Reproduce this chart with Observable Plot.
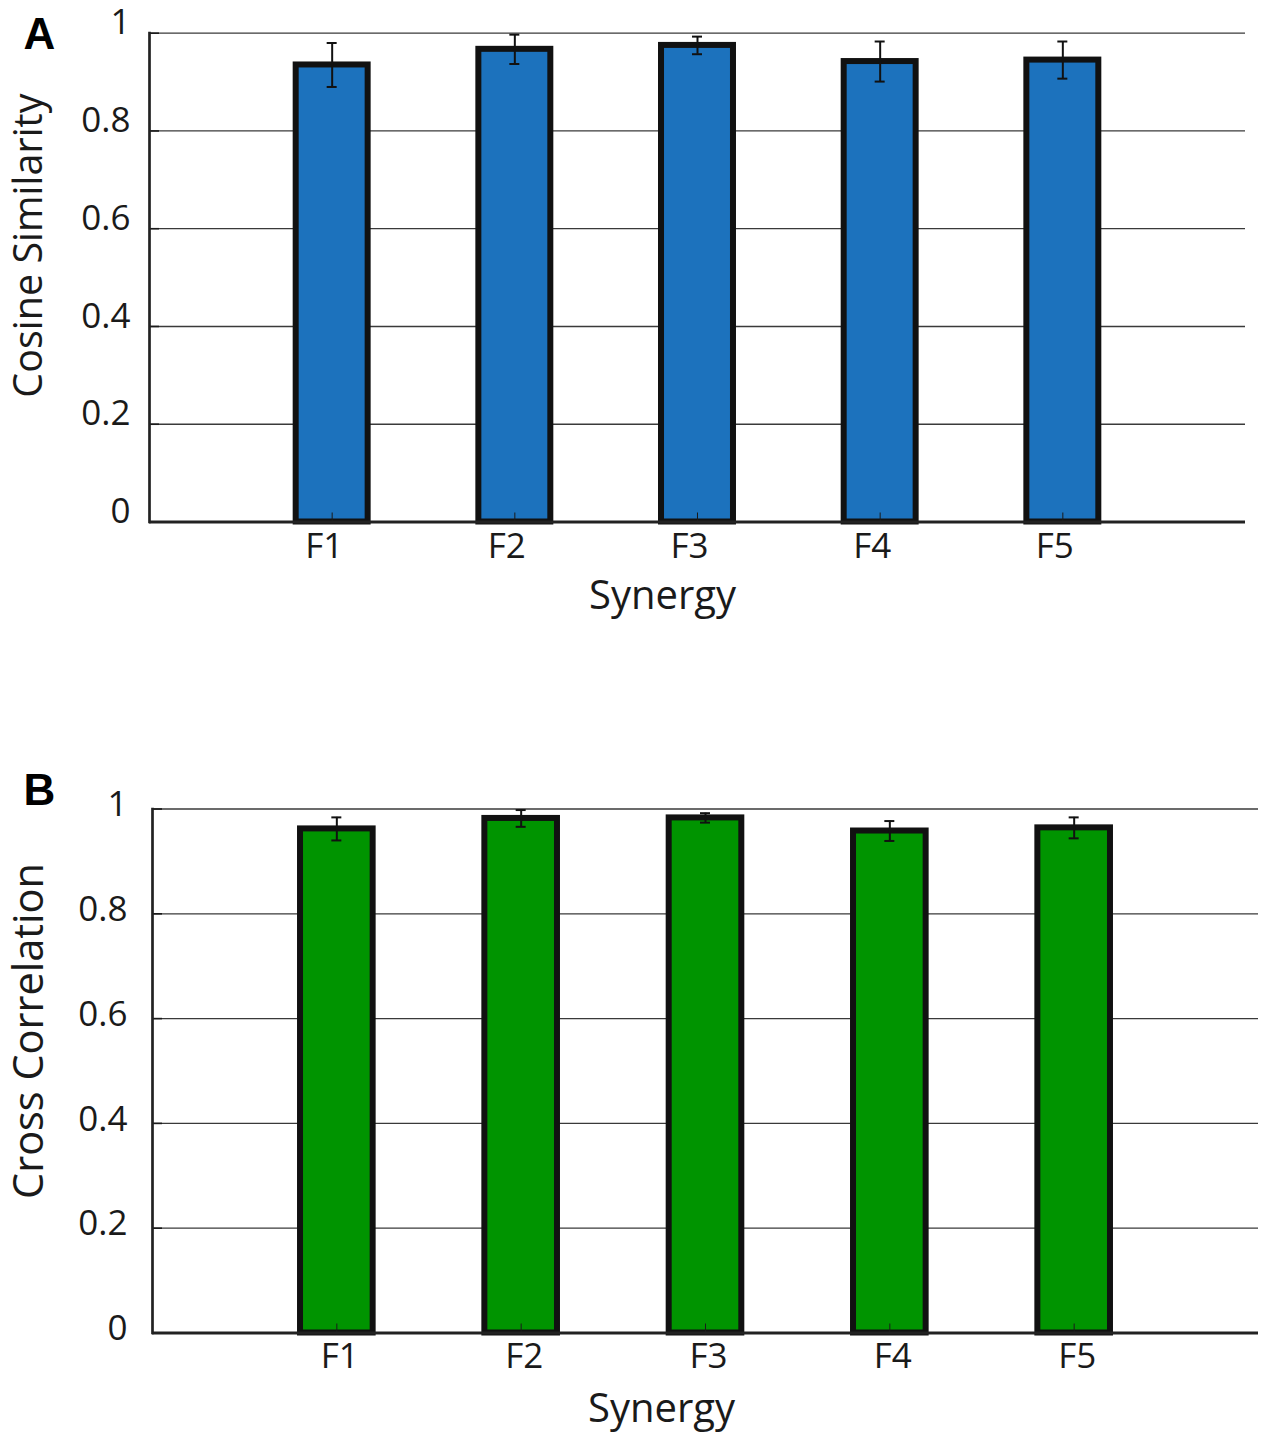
<!DOCTYPE html>
<html><head><meta charset="utf-8">
<script src="https://cdn.jsdelivr.net/npm/d3@7"></script>
<script src="https://cdn.jsdelivr.net/npm/@observablehq/plot@0.6"></script>
<style>
body{margin:0;background:#fff}
#wrap{width:1267px}
#wrap svg{display:block;overflow:visible}
</style>
</head><body><div id="wrap"></div>
<script>
const synergies = ["F1", "F2", "F3", "F4", "F5"];
const cosineMean = [0.935, 0.967, 0.975, 0.942, 0.945];
const cosineErr  = [0.045, 0.030, 0.018, 0.041, 0.038];
const crossMean  = [0.962, 0.982, 0.983, 0.958, 0.964];
const crossErr   = [0.022, 0.016, 0.009, 0.019, 0.020];
const yTicks = [0, 0.2, 0.4, 0.6, 0.8, 1];
const yTickLabels = ["0", "0.2", "0.4", "0.6", "0.8", "1"];

const PI = 0.606, PO = (1 + PI) / 2;

function panel(c) {
  const data = synergies.map((s, i) => ({s, v: c.mean[i], e: c.err[i]}));
  const W = 1267 - c.ml - c.mr;
  const H = c.height - c.mt - c.mb;
  const bw = W / 6 * (1 - PI);
  const capInset = (bw - 10) / 2;
  return Plot.plot({
    width: 1267,
    height: c.height,
    marginTop: c.mt, marginBottom: c.mb, marginLeft: c.ml, marginRight: c.mr,
    style: {fontFamily: "'Open Sans', 'Noto Sans', sans-serif", color: "#1a1a1a", background: "#fff"},
    x: {domain: synergies, paddingInner: PI, paddingOuter: PO, align: 0.5, round: false, label: null, axis: null},
    y: {domain: [0, 1], label: null, axis: null},
    marks: [
      Plot.gridY(yTicks.filter(d => d > 0), {stroke: "#3a3a3a", strokeOpacity: 1, strokeWidth: 1.3}),
      Plot.tickY(yTicks, {y: d => d, insetRight: W - 10, stroke: "#1a1a1a", strokeWidth: 1.6}),
      Plot.barY(data, {x: "s", y: "v", fill: c.color, stroke: "#111", strokeWidth: 6}),
      Plot.tickX(synergies, {x: d => d, insetTop: H - 9, stroke: "#1a1a1a", strokeWidth: 1}),
      Plot.ruleX(data, {x: "s", y1: d => d.v - d.e, y2: d => d.v + d.e, stroke: "#111", strokeWidth: 2}),
      Plot.tickY(data, {x: "s", y: d => d.v + d.e, insetLeft: capInset, insetRight: capInset, stroke: "#111", strokeWidth: 2}),
      Plot.tickY(data, {x: "s", y: d => d.v - d.e, insetLeft: capInset, insetRight: capInset, stroke: "#111", strokeWidth: 2}),
      Plot.ruleY([0], {stroke: "#222", strokeWidth: 3}),
      Plot.frame({anchor: "left", stroke: "#222", strokeWidth: 2.7}),
      Plot.axisY(yTicks, {tickFormat: d => yTickLabels[yTicks.indexOf(d)], tickSize: 0, tickPadding: c.yPad, dy: c.yDy, fontSize: 35, label: null}),
      Plot.axisX({tickSize: 0, tickPadding: c.xPad, dx: c.xDx, fontSize: 35, label: null}),
      Plot.text(["Synergy"], {text: d => d, frameAnchor: "bottom", textAnchor: "middle", lineAnchor: "bottom", dx: c.xTitleDx, dy: c.xTitleDy, fontSize: 40}),
      Plot.text([c.yLabel], {text: d => d, frameAnchor: "left", textAnchor: "middle", lineAnchor: "top", rotate: -90, dx: c.yTitleDx, dy: c.yTitleDy, fontSize: c.yTitleSize}),
      Plot.text([c.letter], {text: d => d, frameAnchor: "top-left", textAnchor: "start", lineAnchor: "top", dx: c.letterDx, dy: c.letterDy, fontSize: 44, fontWeight: "bold", fontFamily: "'Liberation Sans', Arial, sans-serif", fill: "#000"})
    ]
  });
}

const wrap = document.getElementById("wrap");
wrap.append(panel({
  height: 725, mt: 32.7, mb: 203.5, ml: 149, mr: 22,
  mean: cosineMean, err: cosineErr, color: "#1c72bd",
  yLabel: "Cosine Similarity", letter: "A",
  yPad: 19, yDy: -10, xPad: 11.5, xDx: -8, xTitleDx: -35, xTitleDy: 87,
  yTitleDx: -136, yTitleDy: -32, yTitleSize: 39.5,
  letterDx: 23 - 149, letterDy: -15
}));
wrap.append(panel({
  height: 724, mt: 83.5, mb: 116.5, ml: 152, mr: 9,
  mean: crossMean, err: crossErr, color: "#009400",
  yLabel: "Cross Correlation", letter: "B",
  yPad: 25, yDy: -4, xPad: 10.5, xDx: 3, xTitleDx: -44, xTitleDy: 89,
  yTitleDx: -139, yTitleDy: -40, yTitleSize: 41.5,
  letterDx: 23 - 152, letterDy: -35.5
}));
</script>
</body></html>
